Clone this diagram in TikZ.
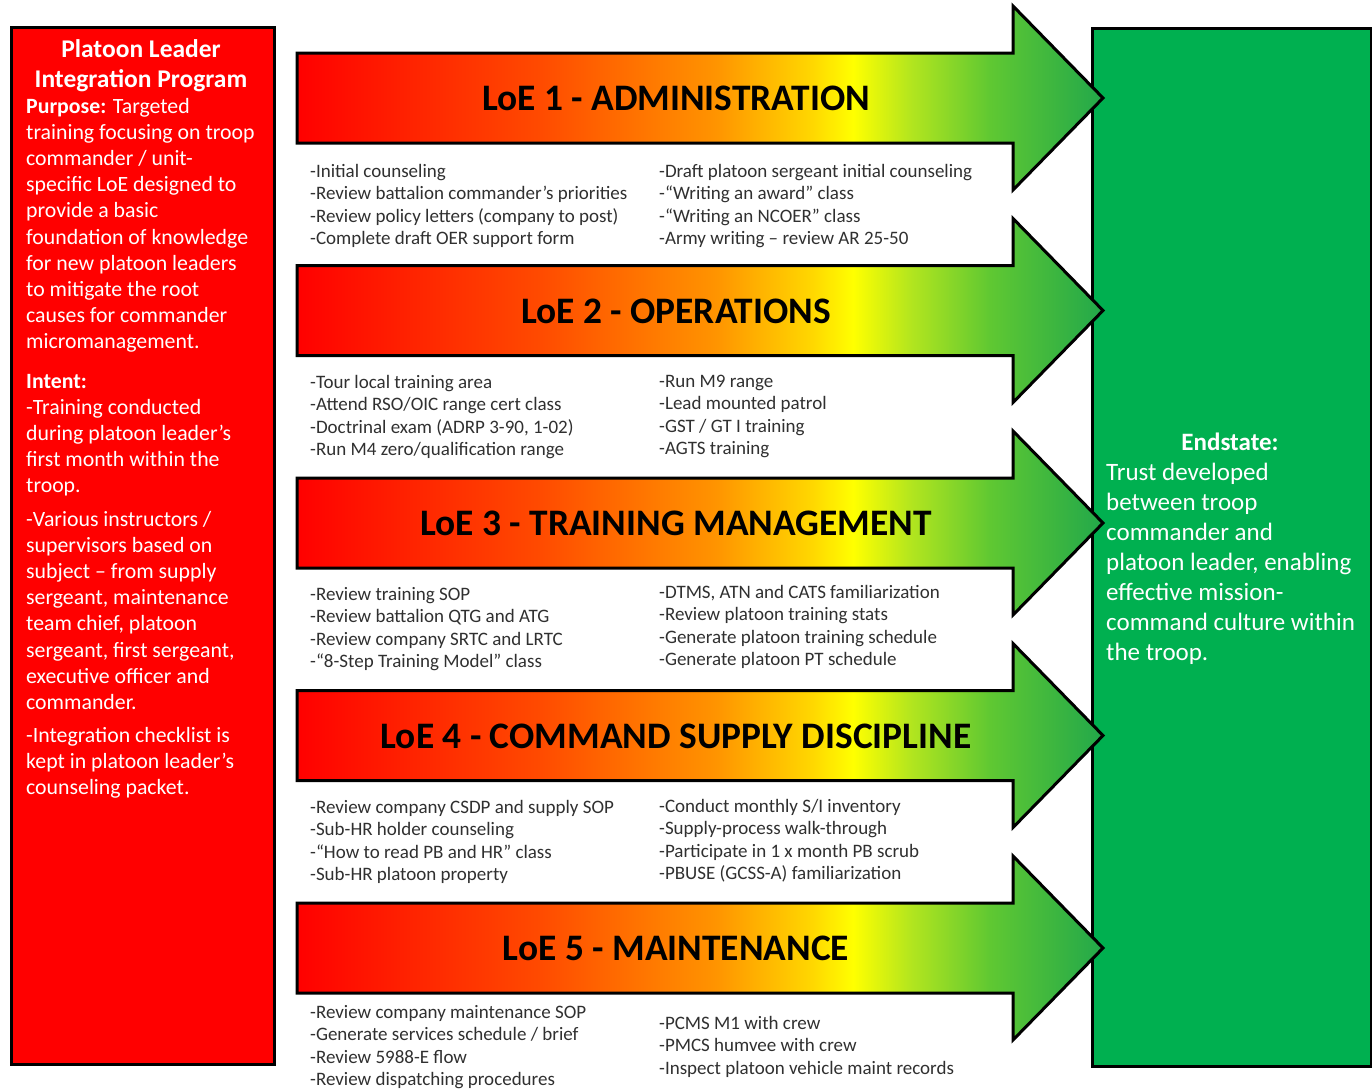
\documentclass[tikz,border=0pt]{standalone}
\usepackage{fontspec}
\setmainfont{Carlito}
\definecolor{redbox}{HTML}{FF0000}
\definecolor{greenbox}{HTML}{00B050}
\definecolor{listgray}{HTML}{303030}
\definecolor{sA}{HTML}{FF0000}
\definecolor{sB}{HTML}{FF4A00}
\definecolor{sC}{HTML}{FF9400}
\definecolor{sD}{HTML}{FFD800}
\definecolor{sE}{HTML}{FFFF00}
\definecolor{sF}{HTML}{B4E61E}
\definecolor{sG}{HTML}{5FC832}
\definecolor{sH}{HTML}{22A84A}
\pgfdeclarehorizontalshading{loe}{100bp}{color(0bp)=(sA); color(25bp)=(sA); color(40bp)=(sB); color(51bp)=(sC); color(57bp)=(sD); color(59.5bp)=(sE); color(63bp)=(sF); color(68bp)=(sG); color(75bp)=(sH); color(100bp)=(sH)}
\begin{document}
\begin{tikzpicture}[x=1pt,y=-1pt,
  boxline/.style={draw=black,line width=3pt},
  loearrow/.style={draw=black,line width=3pt,shading=loe,miter limit=20},
  loetitle/.style={font=\fontsize{37.4}{40}\selectfont\bfseries,text=black,inner sep=0pt,anchor=base},
  lst/.style={font=\fontsize{19}{22}\selectfont,text=listgray,inner sep=0pt,anchor=base west},
  lefttxt/.style={font=\fontsize{21.8}{26}\selectfont,text=white,inner sep=0pt,anchor=base west},
  lefttitle/.style={font=\fontsize{25.5}{28}\selectfont\bfseries,text=white,inner sep=0pt,anchor=base},
  endtxt/.style={font=\fontsize{25}{30}\selectfont,text=white,inner sep=0pt,anchor=base west}]
\useasboundingbox (0,0) rectangle (1372,1088);
\fill[white] (0,0) rectangle (1372,1088);

% left red box
\node[boxline,fill=redbox,minimum width=263pt,minimum height=1037pt,anchor=north west,inner sep=0pt] (plip) at (10,26) {};
% right green box
\node[boxline,fill=greenbox,minimum width=279pt,minimum height=1038pt,anchor=north west,inner sep=0pt] (endstate) at (1091,27) {};

% left box text
\node[lefttitle] (t1) at (141,57) {Platoon Leader};
\node[lefttitle] (t2) at (141,87) {Integration Program};
\foreach \t [count=\k] in {{\textbf{Purpose:} Targeted},training focusing on troop,commander / unit-,specific LoE designed to,provide a basic,foundation of knowledge,for new platoon leaders,to mitigate the root,causes for commander,micromanagement.}
  {\node[lefttxt] (pur\k) at (26,113+\k*26.2-26.2) {\t};}
\foreach \t [count=\k] in {\textbf{Intent:},-Training conducted,during platoon leader’s,first month within the,troop.}
  {\node[lefttxt] (int\k) at (26,388+\k*26.2-26.2) {\t};}
\foreach \t [count=\k] in {-Various instructors /,supervisors based on,subject – from supply,{sergeant, maintenance},{team chief, platoon},{sergeant, first sergeant,},executive officer and,commander.}
  {\node[lefttxt] (var\k) at (26,526+\k*26.2-26.2) {\t};}
\foreach \t [count=\k] in {-Integration checklist is,kept in platoon leader’s,counseling packet.}
  {\node[lefttxt] (chk\k) at (26,742+\k*26.2-26.2) {\t};}

% green box text
\node[font=\fontsize{25}{30}\selectfont\bfseries,text=white,inner sep=0pt,anchor=base] (es0) at (1230,450) {Endstate:};
\foreach \t [count=\k] in {Trust developed,between troop,commander and,{platoon leader, enabling},effective mission-,command culture within,the troop.}
  {\node[endtxt] (es\k) at (1106,480+\k*30-30) {\t};}

% arrows
\foreach \i/\ttl in {0/LoE 1 - ADMINISTRATION,1/LoE 2 - OPERATIONS,2/LoE 3 - TRAINING MANAGEMENT,3/LoE 4 - COMMAND SUPPLY DISCIPLINE,4/LoE 5 - MAINTENANCE}{
  \pgfmathsetmacro\cy{98+\i*212.5}
  \coordinate (tip\i) at (1103,\cy);
  \shadedraw[loearrow] (297,\cy-45) -- (1013,\cy-45) -- (1013,\cy-92) -- (tip\i) -- (1013,\cy+92) -- (1013,\cy+45) -- (297,\cy+45) -- cycle;
  \node[loetitle] (loe\i) at (676,\cy+12.5) {\ttl};
}

% lists
\foreach \t [count=\k] in {-Initial counseling,-Review battalion commander’s priorities,-Review policy letters (company to post),-Complete draft OER support form}
  {\node[lst] (a1l\k) at (310,177+\k*22.6-22.6) {\t};}
\foreach \t [count=\k] in {-Draft platoon sergeant initial counseling,-“Writing an award” class,-“Writing an NCOER” class,-Army writing – review AR 25-50}
  {\node[lst] (a1r\k) at (659,177+\k*22.6-22.6) {\t};}
\foreach \t [count=\k] in {-Tour local training area,-Attend RSO/OIC range cert class,{-Doctrinal exam (ADRP 3-90, 1-02)},-Run M4 zero/qualification range}
  {\node[lst] (a2l\k) at (310,388+\k*22.6-22.6) {\t};}
\foreach \t [count=\k] in {-Run M9 range,-Lead mounted patrol,-GST / GT I training,-AGTS training}
  {\node[lst] (a2r\k) at (659,387+\k*22.6-22.6) {\t};}
\foreach \t [count=\k] in {-Review training SOP,-Review battalion QTG and ATG,-Review company SRTC and LRTC,-“8-Step Training Model” class}
  {\node[lst] (a3l\k) at (310,600+\k*22.6-22.6) {\t};}
\foreach \t [count=\k] in {{-DTMS, ATN and CATS familiarization},-Review platoon training stats,-Generate platoon training schedule,-Generate platoon PT schedule}
  {\node[lst] (a3r\k) at (659,598+\k*22.6-22.6) {\t};}
\foreach \t [count=\k] in {-Review company CSDP and supply SOP,-Sub-HR holder counseling,-“How to read PB and HR” class,-Sub-HR platoon property}
  {\node[lst] (a4l\k) at (310,813+\k*22.6-22.6) {\t};}
\foreach \t [count=\k] in {-Conduct monthly S/I inventory,-Supply-process walk-through,-Participate in 1 x month PB scrub,-PBUSE (GCSS-A) familiarization}
  {\node[lst] (a4r\k) at (659,812+\k*22.6-22.6) {\t};}
\foreach \t [count=\k] in {-Review company maintenance SOP,-Generate services schedule / brief,-Review 5988-E flow,-Review dispatching procedures}
  {\node[lst] (a5l\k) at (310,1018+\k*22.6-22.6) {\t};}
\foreach \t [count=\k] in {-PCMS M1 with crew,-PMCS humvee with crew,-Inspect platoon vehicle maint records}
  {\node[lst] (a5r\k) at (659,1029+\k*22.6-22.6) {\t};}
\end{tikzpicture}
\end{document}
